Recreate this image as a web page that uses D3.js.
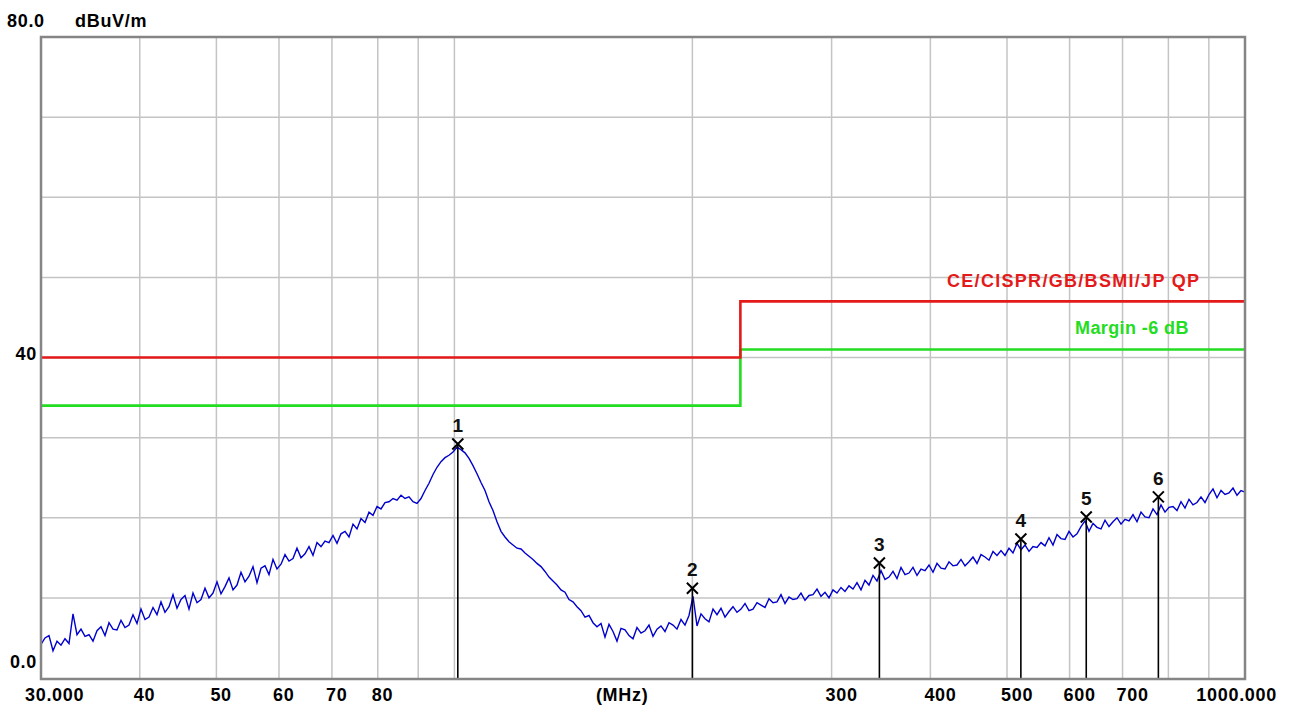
<!DOCTYPE html>
<html>
<head>
<meta charset="utf-8">
<script src="https://cdn.jsdelivr.net/npm/d3@7"></script>
<style>
  html, body { margin: 0; padding: 0; background: #fff; }
  svg { display: block; }
  text { font-family: "Liberation Sans", Arial, sans-serif; font-weight: bold; }
</style>
</head>
<body>
<svg id="chart" width="1293" height="709"></svg>
<script>
// ---------------- data ----------------
const sweepStartMHz = 30;
const sweepStopMHz = 1000;
// measured level (dBuV/m) at evenly log-spaced sweep points from 30 to 1000 MHz
const traceDb = [
  4.2,5.0,5.3,3.4,4.6,4.1,4.9,4.3,8.0,5.4,
  6.1,5.2,5.4,4.6,5.9,6.4,5.3,6.9,6.1,6.0,
  7.2,6.3,6.6,7.9,6.8,8.6,7.3,7.6,8.8,7.9,
  9.5,8.2,8.9,10.4,8.7,9.8,10.3,8.6,10.6,9.4,
  9.8,11.2,10.0,10.6,12.0,10.5,11.4,12.5,11.0,11.6,
  13.2,12.0,12.7,13.9,11.9,13.7,14.0,12.9,14.8,13.6,
  14.2,15.4,14.6,14.9,16.2,15.0,15.5,16.4,15.3,16.9,
  16.4,17.1,16.9,17.8,16.8,18.0,18.3,17.6,19.2,18.6,
  19.9,19.4,20.7,20.3,21.4,21.1,21.9,22.0,22.4,22.2,
  22.8,22.4,22.6,22.0,21.8,22.4,23.4,24.3,25.4,26.3,
  27.0,27.5,27.8,28.2,28.8,28.5,28.1,27.4,26.5,25.5,
  24.4,23.4,22.0,20.9,19.5,18.3,17.6,17.0,16.6,16.2,
  16.1,15.6,15.2,14.8,14.3,13.9,13.3,12.6,12.1,11.6,
  11.0,10.7,9.8,9.5,8.9,8.4,7.6,7.8,6.9,6.4,
  6.8,5.1,6.7,5.8,4.6,6.2,6.0,5.3,4.9,6.3,
  5.6,5.9,6.6,5.2,6.1,6.5,5.8,6.9,6.6,6.1,
  7.3,6.6,7.8,10.2,6.5,8.0,7.4,7.0,8.6,7.9,
  8.7,7.6,8.3,8.9,8.2,8.6,9.3,8.4,8.6,9.4,
  9.1,8.8,9.9,9.4,9.5,10.4,9.3,10.1,9.8,9.9,
  10.6,9.7,10.3,10.4,11.1,10.2,10.7,10.0,11.0,10.6,
  11.3,10.8,11.5,11.1,11.9,11.0,12.2,11.6,12.8,12.1,
  13.4,12.3,12.6,13.3,12.4,13.8,12.9,13.1,13.8,12.8,
  13.6,13.4,14.1,13.2,14.3,13.7,13.6,14.5,14.0,14.1,
  14.8,14.0,14.5,15.1,14.3,15.4,15.1,14.7,15.8,15.3,
  15.9,15.3,16.2,15.6,16.8,16.0,16.6,15.8,16.4,16.3,
  16.9,16.5,17.5,16.6,17.9,17.4,17.3,18.3,17.6,18.0,
  18.9,19.6,18.3,19.3,18.8,18.6,19.7,18.9,19.5,20.0,
  19.2,19.8,19.6,20.4,19.5,20.7,20.1,20.0,21.1,20.4,
  21.6,20.7,21.3,21.4,20.9,22.0,21.2,22.3,21.6,21.9,
  22.6,21.9,22.9,23.6,22.5,23.4,22.9,23.1,23.7,22.8,
  23.4,23.2
];

// limit line (QP) and margin line
const limitFreq = [30, 230, 230, 1000];
const limitDb   = [40, 40, 47, 47];
const marginDb  = [34, 34, 41, 41];
const limitName  = "CE/CISPR/GB/BSMI/JP QP";
const marginName = "Margin -6 dB";

// peak markers
const markerNo   = [1, 2, 3, 4, 5, 6];
const markerFreq = [101.0, 200.0, 344.8, 520.6, 629.8, 777.0];
const markerDb   = [29.2, 11.2, 14.35, 17.35, 20.1, 22.6];

// axes
const xGridValues = [40, 50, 60, 70, 80, 90, 100, 200, 300, 400, 500, 600, 700, 800, 900];
const xLabelValues = [30, 40, 50, 60, 70, 80, 300, 400, 500, 600, 700, 1000];
const xLabelText   = ["30.000", "40", "50", "60", "70", "80", "300", "400", "500", "600", "700", "1000.000"];
const xUnitText = "(MHz)";
const xUnitFreq = 163;
const yGridValues = [10, 20, 30, 40, 50, 60, 70];
const yLabelValues = [80, 40, 0];
const yLabelText   = ["80.0", "40", "0.0"];
const yUnitText = "dBuV/m";

// ---------------- layout / style ----------------
const L = 41, R = 1245, T = 37, B = 678;
const COLORS = { grid: "#c4c4c4", frame: "#858585", limit: "#e41a1a", margin: "#22dd22", trace: "#0000cc", marker: "#000" };

const svg = d3.select("#chart");
const x = d3.scaleLog().domain([sweepStartMHz, sweepStopMHz]).range([L, R]);
const y = d3.scaleLinear().domain([0, 80]).range([B, T]);

svg.append("rect").attr("width", 1293).attr("height", 709).attr("fill", "#fff");

// grid
const grid = svg.append("g");
grid.selectAll("line.vx").data(xGridValues).join("line")
  .attr("x1", d => x(d)).attr("x2", d => x(d)).attr("y1", T).attr("y2", B)
  .attr("stroke", COLORS.grid).attr("stroke-width", 1.5);
grid.selectAll("line.hy").data(yGridValues).join("line")
  .attr("x1", L).attr("x2", R).attr("y1", d => y(d)).attr("y2", d => y(d))
  .attr("stroke", COLORS.grid).attr("stroke-width", 1.5);

// limit lines
const stepLine = d3.line().x(d => x(d[0])).y(d => y(d[1]));
svg.append("path").datum(limitFreq.map((f, i) => [f, marginDb[i]]))
  .attr("d", stepLine).attr("fill", "none").attr("stroke", COLORS.margin).attr("stroke-width", 2.6);
svg.append("path").datum(limitFreq.map((f, i) => [f, limitDb[i]]))
  .attr("d", stepLine).attr("fill", "none").attr("stroke", COLORS.limit).attr("stroke-width", 2.6);

// trace
const n = traceDb.length;
const lStart = Math.log10(sweepStartMHz), lStop = Math.log10(sweepStopMHz);
const traceFreq = traceDb.map((_, i) => Math.pow(10, lStart + (lStop - lStart) * i / (n - 1)));
svg.append("path").datum(traceDb.map((v, i) => [traceFreq[i], v]))
  .attr("d", d3.line().x(d => x(d[0])).y(d => y(d[1])))
  .attr("fill", "none").attr("stroke", COLORS.trace).attr("stroke-width", 1.4)
  .attr("stroke-linejoin", "miter");

// markers
const mk = svg.append("g");
markerNo.forEach((no, i) => {
  const mx = x(markerFreq[i]), my = y(markerDb[i]);
  mk.append("line").attr("x1", mx).attr("x2", mx).attr("y1", my).attr("y2", B)
    .attr("stroke", COLORS.marker).attr("stroke-width", 1.6);
  const s = 5.5;
  mk.append("path").attr("d", `M${mx - s},${my - s}L${mx + s},${my + s}M${mx - s},${my + s}L${mx + s},${my - s}`)
    .attr("stroke", COLORS.marker).attr("stroke-width", 2);
  mk.append("text").attr("x", mx).attr("y", my - 12).attr("text-anchor", "middle")
    .attr("font-size", 19).attr("fill", "#111").text(no);
});

// frame
svg.append("rect").attr("x", L).attr("y", T).attr("width", R - L).attr("height", B - T + 1)
  .attr("fill", "none").attr("stroke", COLORS.frame).attr("stroke-width", 2.5);

// limit labels
svg.append("text").attr("x", 947).attr("y", y(limitDb[3]) - 14)
  .attr("font-size", 18).attr("letter-spacing", 1.3).attr("fill", COLORS.limit).text(limitName);
svg.append("text").attr("x", 1075).attr("y", y(marginDb[3]) - 15)
  .attr("font-size", 18).attr("letter-spacing", 0.4).attr("fill", COLORS.margin).text(marginName);

// x labels
const xl = svg.append("g").attr("font-size", 18).attr("letter-spacing", 0.7).attr("fill", "#000");
xLabelValues.forEach((v, i) => {
  const t = xl.append("text").attr("y", 701).text(xLabelText[i]);
  if (i === 0) t.attr("x", x(v) - 16);
  else if (i === xLabelValues.length - 1) t.attr("x", x(v) + 32).attr("text-anchor", "end");
  else t.attr("x", x(v) - 6);
});
xl.append("text").attr("x", x(xUnitFreq)).attr("y", 701).attr("text-anchor", "middle").text(xUnitText);

// y labels
const yl = svg.append("g").attr("font-size", 18).attr("letter-spacing", 0.7).attr("fill", "#000");
const yLabelDy = [-10, 2, -10];
yLabelValues.forEach((v, i) => {
  const t = yl.append("text").attr("y", y(v) + yLabelDy[i]).text(yLabelText[i]);
  if (i === 0) t.attr("x", 7);
  else t.attr("x", 37).attr("text-anchor", "end");
});
yl.append("text").attr("x", 75).attr("y", y(80) - 10).text(yUnitText);
</script>
</body>
</html>
